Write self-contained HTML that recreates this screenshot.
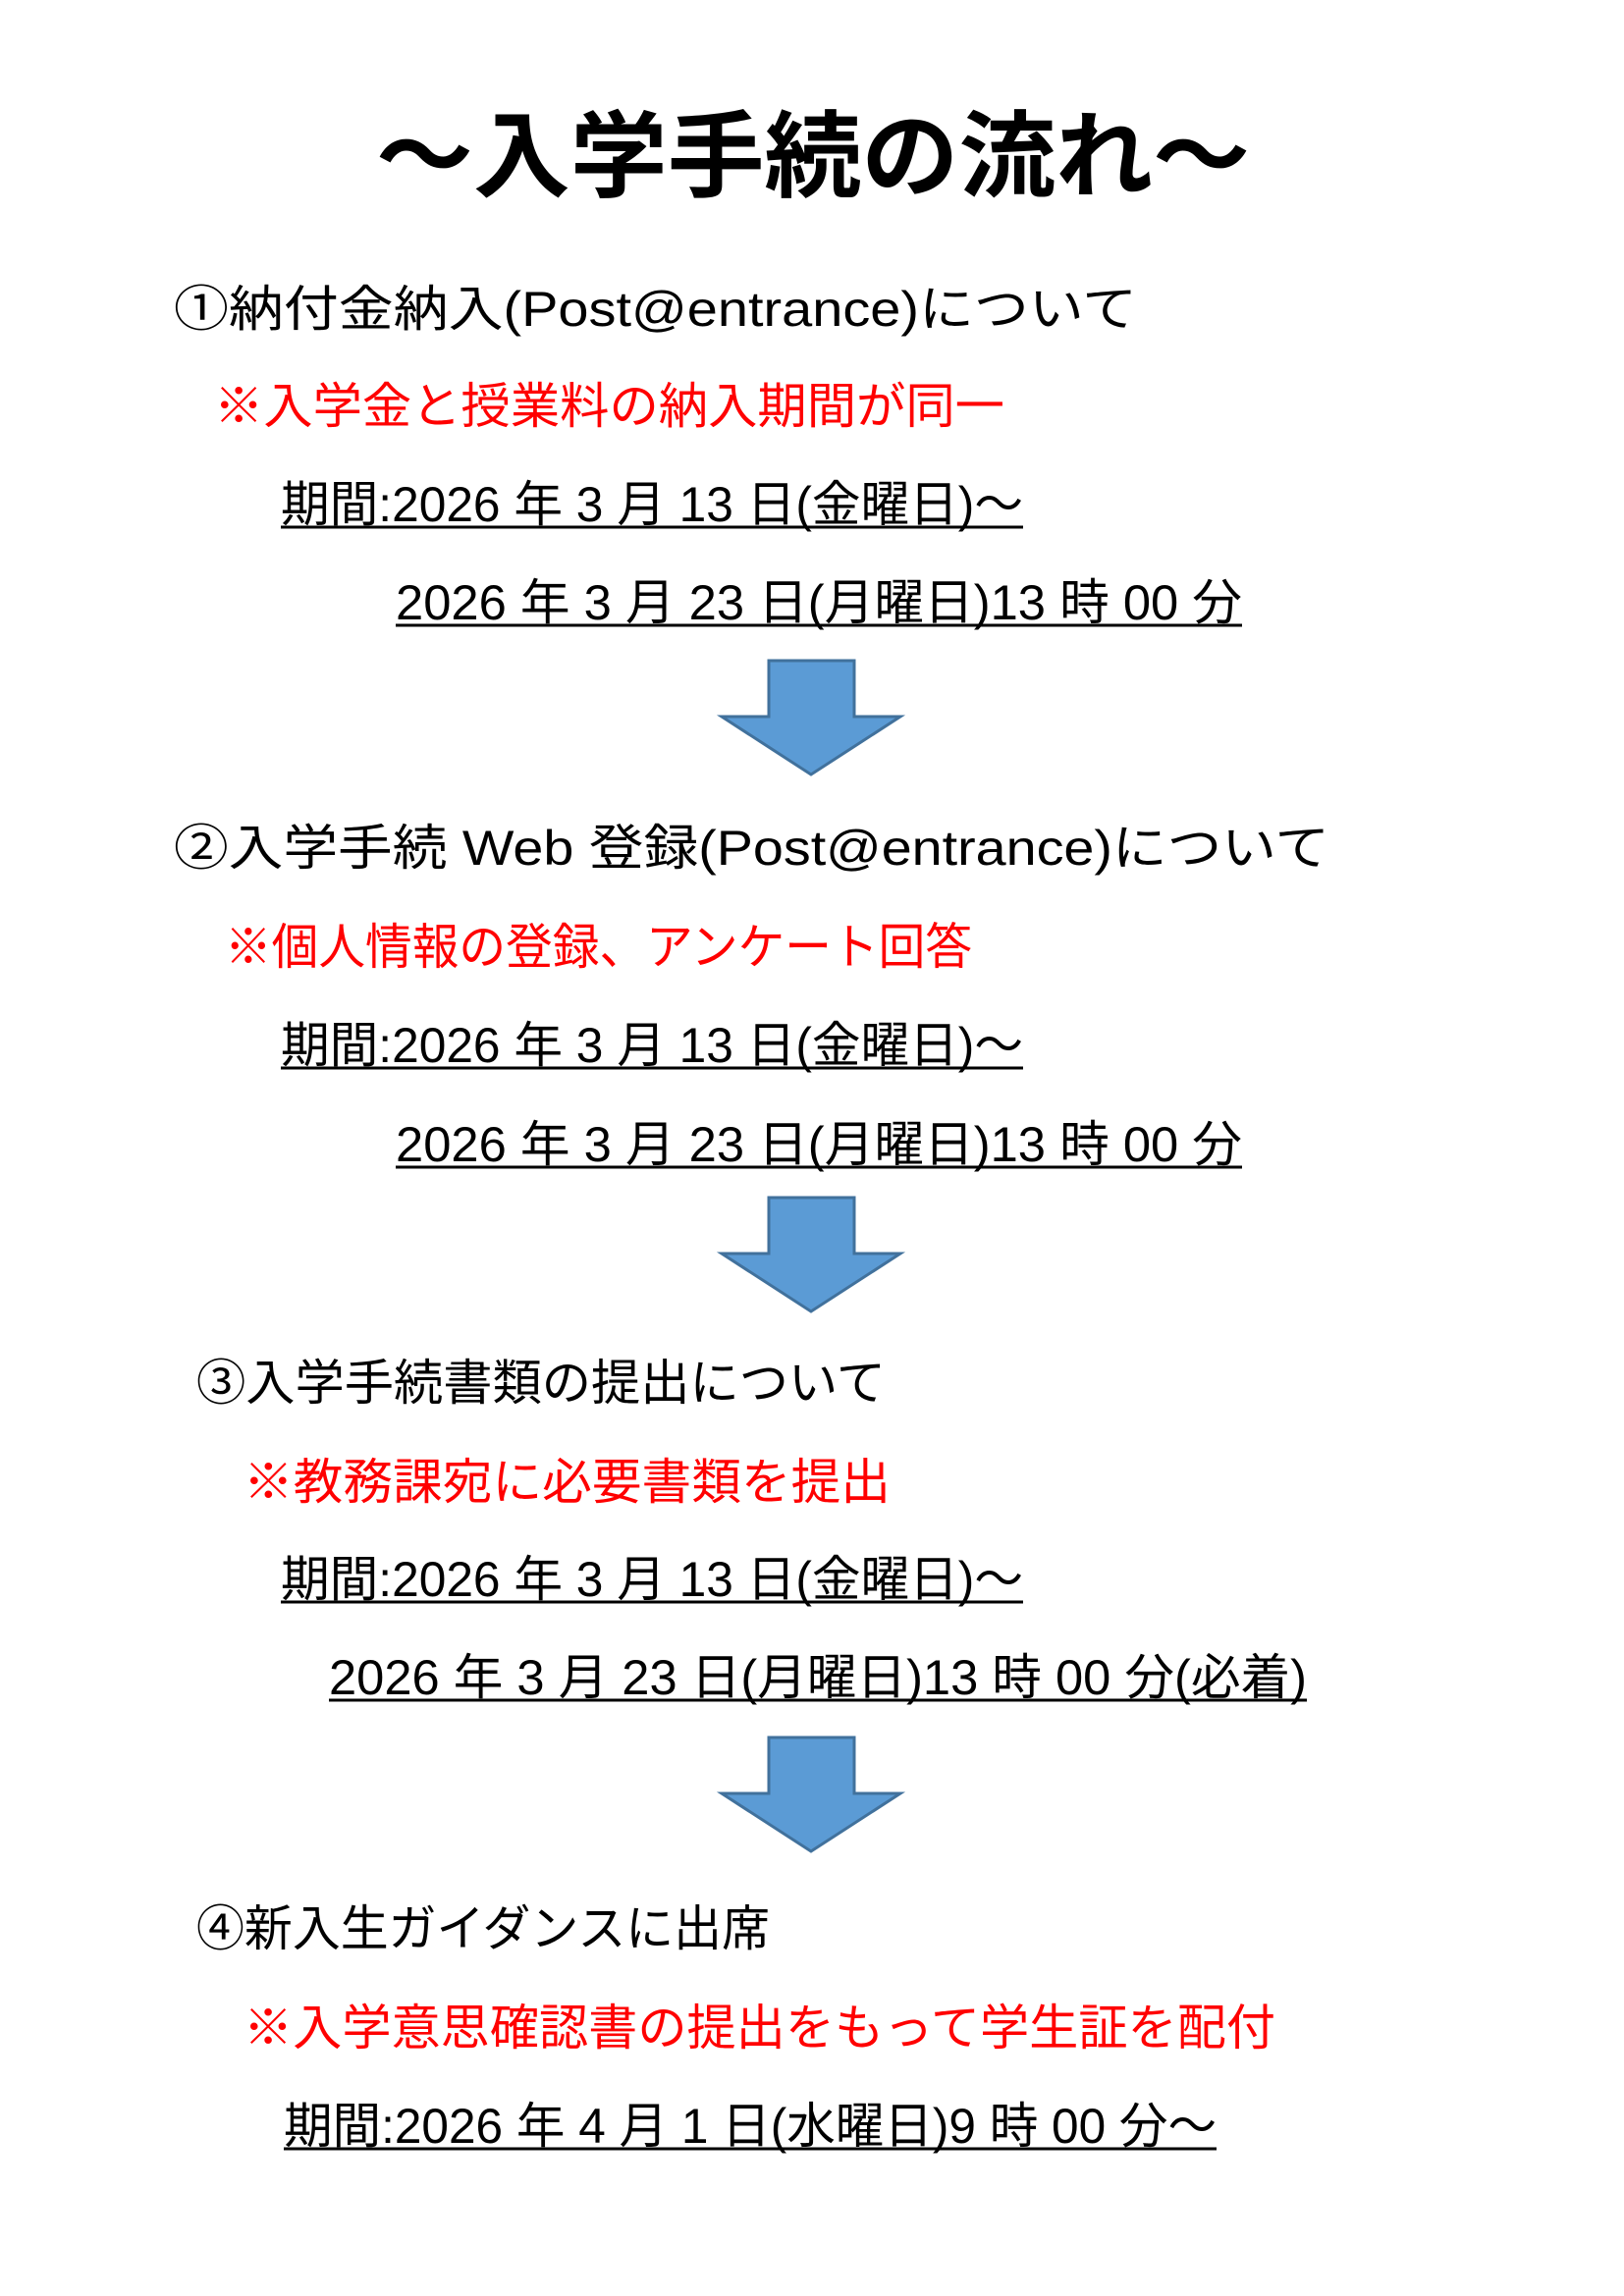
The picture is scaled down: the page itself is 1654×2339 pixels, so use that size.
<!DOCTYPE html>
<html><head><meta charset="utf-8"><style>html,body{margin:0;padding:0;background:#fff}svg{display:block}</style></head>
<body>
<svg width="1654" height="2339" viewBox="0 0 1654 2339" xmlns="http://www.w3.org/2000/svg" font-family="'Liberation Sans','Noto Sans CJK JP',sans-serif">
<rect width="1654" height="2339" fill="#fff"/>
<text x="383" y="193" font-size="96" font-weight="bold" textLength="890" lengthAdjust="spacingAndGlyphs">～入学手続の流れ～</text>
<g font-size="50" fill="#000">
<text x="177" y="332" textLength="981" lengthAdjust="spacingAndGlyphs">①納付金納入(Post@entrance)について</text>
<text x="218" y="431" fill="#ff0000" textLength="805" lengthAdjust="spacingAndGlyphs">※入学金と授業料の納入期間が同一</text>
<text x="286" y="531" textLength="756" lengthAdjust="spacingAndGlyphs">期間:2026 年 3 月 13 日(金曜日)～</text>
<text x="403" y="631" textLength="862" lengthAdjust="spacingAndGlyphs">2026 年 3 月 23 日(月曜日)13 時 00 分</text>
<text x="177" y="881" textLength="1177" lengthAdjust="spacingAndGlyphs">②入学手続 Web 登録(Post@entrance)について</text>
<text x="229" y="982" fill="#ff0000" textLength="761" lengthAdjust="spacingAndGlyphs">※個人情報の登録、アンケート回答</text>
<text x="286" y="1082" textLength="756" lengthAdjust="spacingAndGlyphs">期間:2026 年 3 月 13 日(金曜日)～</text>
<text x="403" y="1183" textLength="862" lengthAdjust="spacingAndGlyphs">2026 年 3 月 23 日(月曜日)13 時 00 分</text>
<text x="200" y="1426" textLength="702" lengthAdjust="spacingAndGlyphs">③入学手続書類の提出について</text>
<text x="248" y="1527" fill="#ff0000" textLength="659" lengthAdjust="spacingAndGlyphs">※教務課宛に必要書類を提出</text>
<text x="286" y="1626" textLength="756" lengthAdjust="spacingAndGlyphs">期間:2026 年 3 月 13 日(金曜日)～</text>
<text x="335" y="1726" textLength="996" lengthAdjust="spacingAndGlyphs">2026 年 3 月 23 日(月曜日)13 時 00 分(必着)</text>
<text x="200" y="1982" textLength="584" lengthAdjust="spacingAndGlyphs">④新入生ガイダンスに出席</text>
<text x="248" y="2083" fill="#ff0000" textLength="1051" lengthAdjust="spacingAndGlyphs">※入学意思確認書の提出をもって学生証を配付</text>
<text x="289" y="2183" textLength="950" lengthAdjust="spacingAndGlyphs">期間:2026 年 4 月 1 日(水曜日)9 時 00 分～</text>
</g>
<g stroke="#000" stroke-width="3">
<line x1="286" y1="537" x2="1042" y2="537"/>
<line x1="403" y1="637" x2="1265" y2="637"/>
<line x1="286" y1="1088" x2="1042" y2="1088"/>
<line x1="403" y1="1189" x2="1265" y2="1189"/>
<line x1="286" y1="1632" x2="1042" y2="1632"/>
<line x1="335" y1="1732" x2="1331" y2="1732"/>
<line x1="289" y1="2189" x2="1239" y2="2189"/>
</g>
<g fill="#5b9bd5" stroke="#41719c" stroke-width="3">
<polygon points="783,673 870,673 870,730 917,730 826,789 735,730 783,730"/>
<polygon points="783,1220 870,1220 870,1277 917,1277 826,1336 735,1277 783,1277"/>
<polygon points="783,1770 870,1770 870,1827 917,1827 826,1886 735,1827 783,1827"/>
</g>
</svg>
</body></html>
